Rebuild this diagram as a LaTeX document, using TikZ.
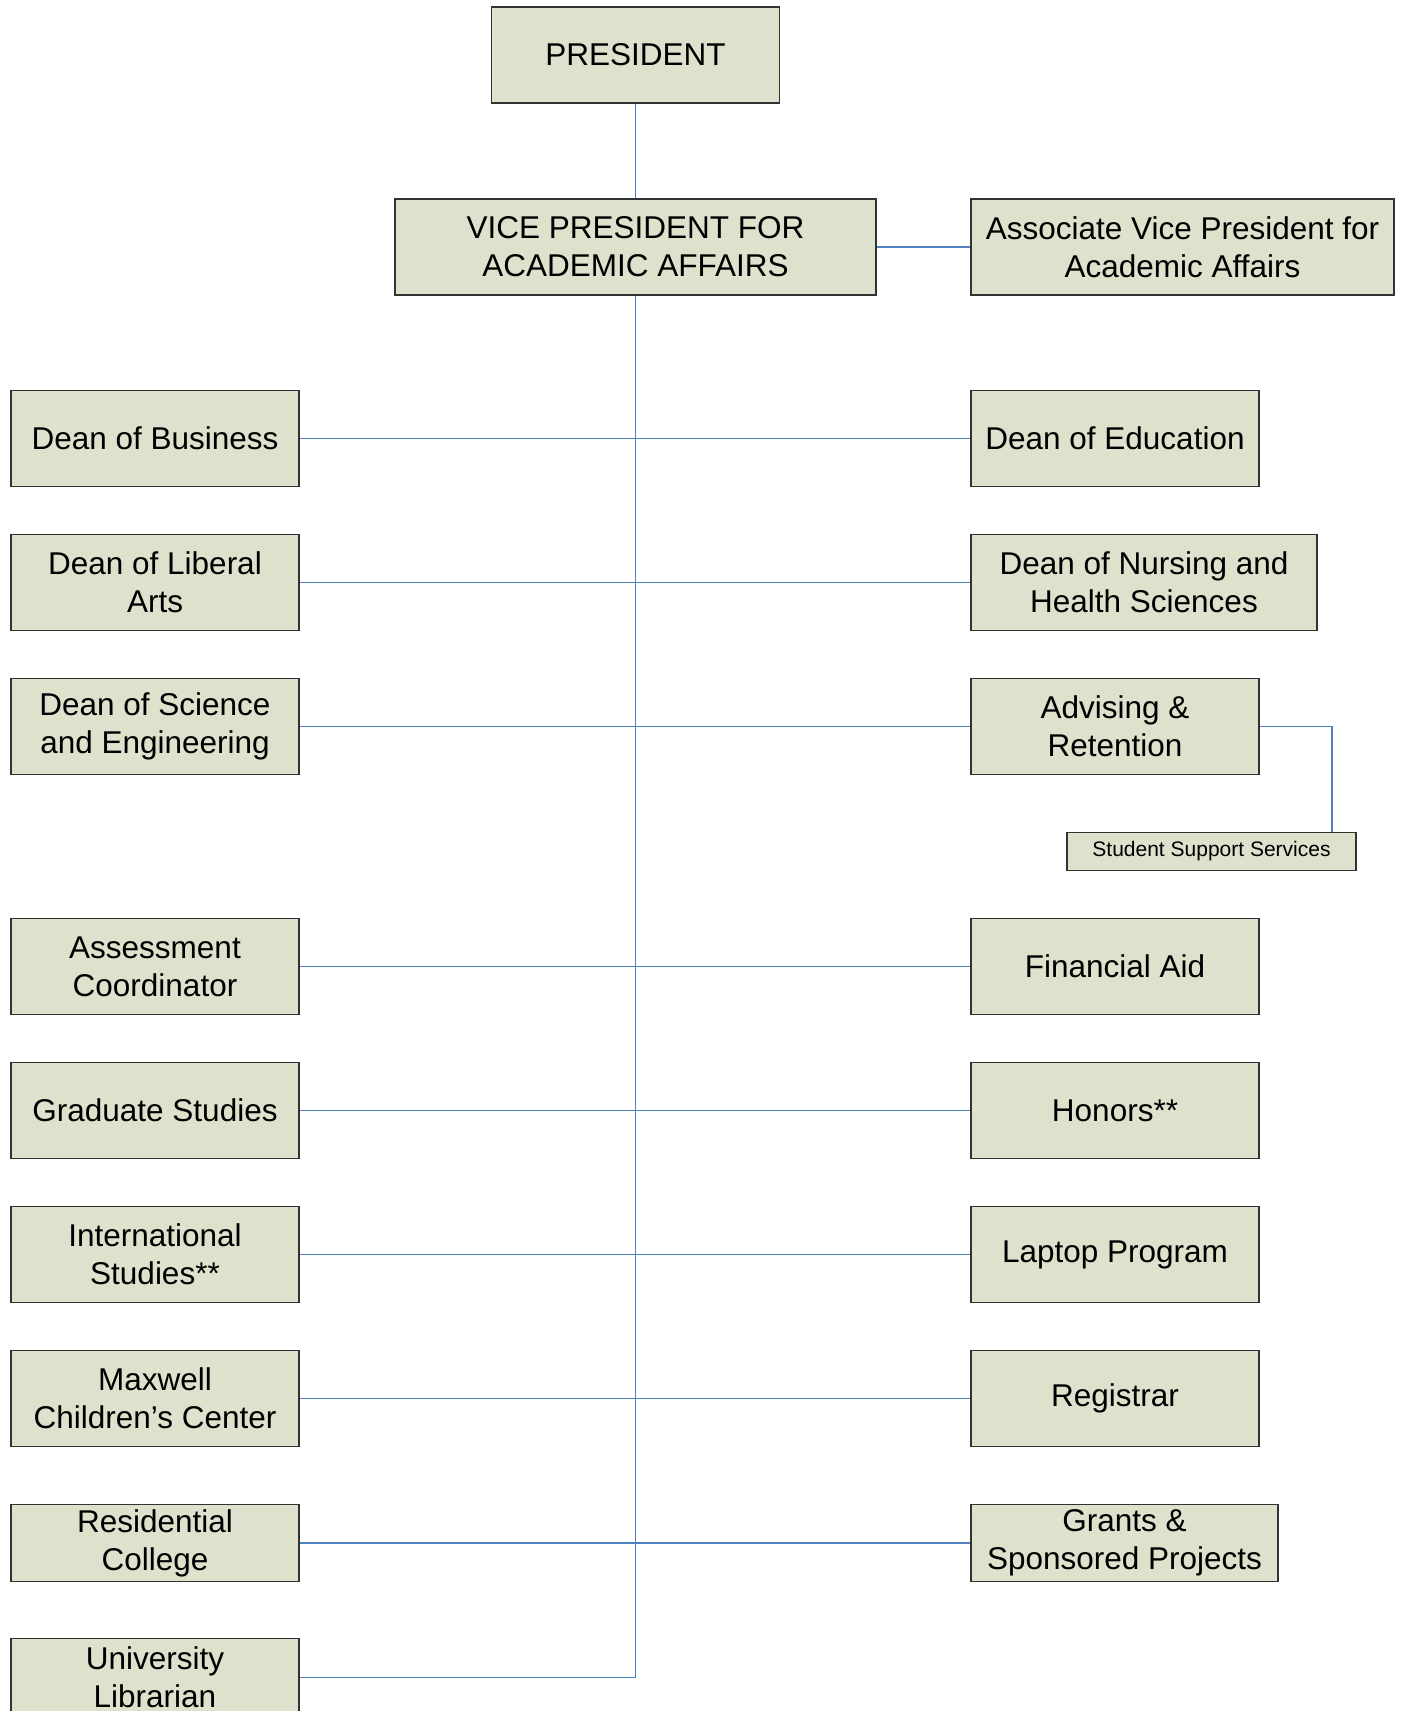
\documentclass[tikz,border=0pt]{standalone}
\usepackage{fontspec}
\setmainfont{Liberation Sans}
\definecolor{boxfill}{RGB}{222,225,204}
\definecolor{linkblue}{RGB}{79,129,189}
\definecolor{boxline}{RGB}{50,50,50}
\begin{document}
\begin{tikzpicture}[x=1pt,y=-1pt,
  orgbox/.style={draw=boxline, line width=1.2pt, fill=boxfill, align=center,
    inner sep=0pt, minimum width=288pt, minimum height=96pt,
    font=\fontsize{31.5}{38}\selectfont},
  smallbox/.style={orgbox, minimum width=289pt, minimum height=38pt,
    font=\fontsize{21}{25}\selectfont},
  link/.style={draw=linkblue, line width=1.1pt}]
\clip (0,0) rectangle (1405,1711);
\fill[white] (0,0) rectangle (1405,1711);

\coordinate (trunk) at (635.5,1677.5);
\coordinate (sssturn) at (1332,726.5);

\node[orgbox] (pres) at (635.5,55) {PRESIDENT};
\node[orgbox, minimum width=481pt] (vp) at (635.5,247) {VICE PRESIDENT FOR\\ACADEMIC AFFAIRS};
\node[orgbox, minimum width=423pt] (avp) at (1182.5,247) {Associate Vice President for\\Academic Affairs};

\node[orgbox] (bus) at (155,438.5) {Dean of Business};
\node[orgbox] (lib) at (155,582.5) {Dean of Liberal\\Arts};
\node[orgbox] (sci) at (155,726.5) {Dean of Science\\and Engineering};
\node[orgbox] (ass) at (155,966.5) {Assessment\\Coordinator};
\node[orgbox] (grad) at (155,1110.5) {Graduate Studies};
\node[orgbox] (intl) at (155,1254.5) {International\\Studies**};
\node[orgbox] (max) at (155,1398.5) {Maxwell\\Children’s Center};
\node[orgbox, minimum height=77.5pt] (res) at (155,1543) {Residential\\College};
\node[orgbox, minimum height=77.5pt] (ulib) at (155,1677.5) {University\\Librarian};

\node[orgbox] (edu) at (1115,438.5) {Dean of Education};
\node[orgbox, minimum width=346pt] (nurs) at (1144,582.5) {Dean of Nursing and\\Health Sciences};
\node[orgbox] (adv) at (1115,726.5) {Advising \&\\Retention};
\node[smallbox] (sss) at (1211.5,851.5) {Student Support Services};
\node[orgbox] (fin) at (1115,966.5) {Financial Aid};
\node[orgbox] (hon) at (1115,1110.5) {Honors**};
\node[orgbox] (lap) at (1115,1254.5) {Laptop Program};
\node[orgbox] (reg) at (1115,1398.5) {Registrar};
\node[orgbox, minimum width=307pt, minimum height=77.5pt] (grant) at (1124.5,1543) {Grants \&\\Sponsored Projects};

\draw[link] (pres.south) -- (vp.north);
\draw[link] (vp.east) -- (avp.west);
\draw[link] (vp.south) -- (trunk) -- (ulib.east);
\draw[link] (bus.east) -- (edu.west);
\draw[link] (lib.east) -- (nurs.west);
\draw[link] (sci.east) -- (adv.west);
\draw[link] (ass.east) -- (fin.west);
\draw[link] (grad.east) -- (hon.west);
\draw[link] (intl.east) -- (lap.west);
\draw[link] (max.east) -- (reg.west);
\draw[link] (res.east) -- (grant.west);
\draw[link] (adv.east) -- (sssturn) -- (sssturn |- sss.north);
\end{tikzpicture}
\end{document}
